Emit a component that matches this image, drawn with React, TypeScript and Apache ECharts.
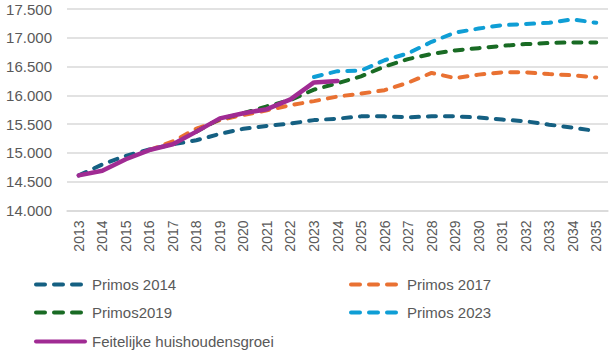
import React, { useEffect, useRef } from "react";
import * as echarts from "echarts";

const years = ["2013","2014","2015","2016","2017","2018","2019","2020","2021","2022","2023","2024","2025","2026","2027","2028","2029","2030","2031","2032","2033","2034","2035"];

const primos2014 = [14610, 14800, 14950, 15060, 15150, 15220, 15330, 15420, 15470, 15510, 15570, 15595, 15635, 15635, 15620, 15635, 15635, 15615, 15580, 15550, 15490, 15440, 15380];
const primos2017 = [null, null, null, 15050, 15200, 15420, 15570, 15660, 15740, 15830, 15900, 15980, 16030, 16090, 16220, 16390, 16300, 16360, 16400, 16400, 16370, 16350, 16310];
const primos2019 = [null, null, null, null, null, 15370, 15590, 15690, 15810, 15920, 16100, 16210, 16330, 16500, 16630, 16720, 16780, 16820, 16860, 16890, 16910, 16920, 16920];
const primos2023 = [null, null, null, null, null, null, null, null, null, null, 16320, 16420, 16430, 16610, 16730, 16930, 17090, 17160, 17220, 17240, 17260, 17320, 17260];
const feitelijk = [14610, 14690, 14890, 15050, 15150, 15370, 15600, 15690, 15760, 15930, 16225, 16250, null, null, null, null, null, null, null, null, null, null, null];

const names = ["Primos 2014", "Primos 2017", "Primos2019", "Primos 2023", "Feitelijke huishoudensgroei"];
const colors = ["#156082", "#E97132", "#196B24", "#0F9ED5", "#A02B93"];
const seriesData = [primos2014, primos2017, primos2019, primos2023, feitelijk];

const FONT = "'Liberation Sans', Arial, sans-serif";

const dashIcon =
  "path://M2,0L11,0A2,2 0 0 1 11,4L2,4A2,2 0 0 1 2,0Z" +
  "M20,0L29,0A2,2 0 0 1 29,4L20,4A2,2 0 0 1 20,0Z" +
  "M38,0L47,0A2,2 0 0 1 47,4L38,4A2,2 0 0 1 38,0Z";
const solidIcon = "path://M2,0L51,0A2,2 0 0 1 51,4L2,4A2,2 0 0 1 2,0Z";

function fmt(v: number) {
  const s = String(Math.round(v));
  return s.replace(/\B(?=(\d{3})+(?!\d))/g, ".");
}

export default function App() {
  const ref = useRef<HTMLDivElement>(null);
  useEffect(() => {
    if (!ref.current) return;
    const chart = echarts.init(ref.current, null, { renderer: "svg" });
    const series = seriesData.map((d, i) => ({
      name: names[i],
      type: "line",
      data: d,
      symbol: "none",
      connectNulls: false,
      lineStyle: i === 4
        ? { color: colors[i], width: 4.5, cap: "round", join: "round" }
        : { color: colors[i], width: 4, type: [8, 9], cap: "round", join: "round" },
      itemStyle: { color: colors[i] },
      z: i === 4 ? 5 : 2,
    }));
    const legendPos = [
      { left: 34, top: 277 },
      { left: 349, top: 277 },
      { left: 34, top: 305 },
      { left: 349, top: 305 },
      { left: 34, top: 334 },
    ];
    const legend = names.map((n, i) => ({
      data: [{ name: n, icon: i === 4 ? solidIcon : dashIcon }],
      left: legendPos[i].left,
      top: legendPos[i].top,
      padding: 0,
      itemWidth: i === 4 ? 53 : 49,
      itemHeight: 4.5,
      itemStyle: { color: colors[i], borderWidth: 0 },
      lineStyle: { width: 0, opacity: 0 },
      textStyle: { color: "#595959", fontSize: 15, fontFamily: FONT, padding: [0, 0, 0, i === 4 ? 0 : 4] },
      selectedMode: false,
    }));
    chart.setOption({
      animation: false,
      grid: { left: 67, right: 5, top: 9, bottom: 146.5, containLabel: false },
      legend,
      xAxis: {
        type: "category",
        data: years,
        boundaryGap: true,
        axisLine: { show: true, lineStyle: { color: "#d9d9d9", width: 1.5 } },
        axisTick: { show: false },
        axisLabel: { rotate: 90, color: "#595959", fontSize: 14, fontFamily: FONT, margin: 10, interval: 0 },
      },
      yAxis: {
        type: "value",
        min: 14000,
        max: 17500,
        interval: 500,
        axisLine: { show: false },
        axisTick: { show: false },
        splitLine: { lineStyle: { color: "#d9d9d9", width: 1.5 } },
        axisLabel: { color: "#595959", fontSize: 15, fontFamily: FONT, margin: 15, formatter: (v: number) => fmt(v) },
      },
      series,
    });
    return () => chart.dispose();
  }, []);
  return <div ref={ref} style={{ width: 613, height: 357, position: "absolute", left: 0, top: 0 }} />;
}
